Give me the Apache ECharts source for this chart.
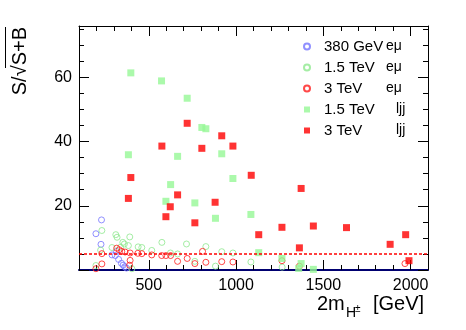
<!DOCTYPE html>
<html lang="en">
<head>
    <meta charset="UTF-8">
    <script src="https://cdn.jsdelivr.net/npm/echarts@6.0.0/dist/echarts.min.js"></script>
    <title>S/sqrt(S+B)</title>
    <style>
        html, body{
            margin: 0;
            padding: 0;
            background: #fff;
        }
        #chart{
            width: 466px;
            height: 330px;
        }
    </style>
</head>
<body>
    <div id="chart"></div>
    <script>
        // 380 GeV e mu (open blue circles)
        const em380X = [197, 229, 226, 289, 308, 315, 327, 343, 353, 362, 372]
        const em380Y = [11.3, 15.6, 8.0, 4.7, 4.5, 5.8, 3.3, 2.1, 1.5, 1.0, 0.6]
        // 1.5 TeV e mu (open green circles)
        const em1500X = [197, 231, 224, 311, 318, 351, 360, 391, 289, 338, 383, 439, 460, 517, 575, 624, 665, 716, 764, 827, 882, 918, 982, 1085, 1264, 403]
        const em1500Y = [1.4, 12.3, 6.2, 11.0, 10.2, 8.6, 8.1, 10.3, 7.0, 7.1, 7.6, 7.2, 7.0, 6.1, 8.6, 5.3, 5.0, 8.1, 2.7, 7.3, 1.2, 5.7, 5.3, 2.5, 0.9, 0.4]
        // 3 TeV e mu (open red circles)
        const em3000X = [197, 231, 231, 316, 330, 345, 364, 393, 393, 390, 437, 460, 517, 574, 598, 625, 665, 720, 764, 808, 827, 918, 982, 1263, 1363, 1968]
        const em3000Y = [0.4, 1.9, 5.1, 6.8, 6.3, 5.8, 5.6, 5.3, 3.0, 1.5, 5.2, 5.1, 4.7, 4.5, 4.5, 4.5, 2.7, 3.6, 2.0, 5.8, 2.4, 2.6, 2.5, 2.9, 1.2, 2.0]
        // 1.5 TeV ljj (green squares)
        const jj1500X = [397, 573, 720, 804, 827, 383, 665, 918, 625, 982, 598, 764, 882, 1085, 1130, 1263, 1373, 1359, 1443]
        const jj1500Y = [61.4, 58.9, 53.5, 44.4, 44.0, 35.9, 35.4, 36.2, 26.6, 28.5, 21.4, 20.9, 16.1, 17.3, 5.4, 3.6, 2.0, 0.5, 0.2]
        // 3 TeV ljj (red squares)
        const jj3000X = [720, 918, 575, 804, 982, 397, 1087, 1373, 383, 665, 623, 880, 598, 764, 1130, 1263, 1363, 1443, 1633, 1883, 1972, 1991]
        const jj3000Y = [45.7, 41.8, 38.6, 37.9, 38.6, 28.8, 29.5, 25.4, 22.3, 23.4, 19.7, 21.1, 16.6, 14.7, 11.0, 13.3, 6.9, 13.7, 13.2, 8.0, 11.0, 2.9]

        // 5 sigma line
        const threshold = 5
        const xMajor = [500, 1000, 1500, 2000]
        const yMajor = [0, 20, 40, 60]

        const font = "'Liberation Sans', Arial, sans-serif"
        const zip = (xs, ys) => xs.map((x, i) => [x, ys[i]])

        function circles(name, xs, ys, color){
            return {
                name: name,
                type: 'scatter',
                data: zip(xs, ys),
                symbol: 'circle',
                symbolSize: 6,
                itemStyle: { color: 'rgba(0,0,0,0)', borderColor: color, borderWidth: 1 }
            }
        }
        function squares(name, xs, ys, color){
            return {
                name: name,
                type: 'scatter',
                data: zip(xs, ys),
                symbol: 'rect',
                symbolSize: 7,
                itemStyle: { color: color }
            }
        }

        // 轴：主轴带小刻度，叠加一根只画大刻度的轴
        function xAx(pos, major, main){
            return {
                type: 'value', min: 100, max: 2100, interval: 100, position: pos,
                axisLine: { show: main, onZero: false, lineStyle: { color: pos === 'bottom' ? '#000070' : '#000', width: pos === 'bottom' ? 2 : 1 } },
                axisTick: major
                    ? { show: true, inside: true, length: 10, customValues: xMajor, lineStyle: { color: '#000' } }
                    : { show: true, inside: true, length: 5, lineStyle: { color: '#000' } },
                axisLabel: {
                    show: pos === 'bottom' && !major,
                    formatter: v => (v % 500 === 0 ? String(v) : ''),
                    fontFamily: font, fontSize: 16, color: '#000', margin: 8
                },
                splitLine: { show: false }
            }
        }
        function yAx(pos, major, main){
            return {
                type: 'value', min: 0, max: 76, interval: 5, position: pos,
                axisLine: { show: main, onZero: false, lineStyle: { color: '#000', width: 1 } },
                axisTick: major
                    ? { show: true, inside: true, length: 10, customValues: yMajor, lineStyle: { color: '#000' } }
                    : { show: true, inside: true, length: 5, lineStyle: { color: '#000' } },
                axisLabel: {
                    show: pos === 'left' && !major,
                    formatter: v => (v % 20 === 0 && v > 0 ? String(v) : ''),
                    fontFamily: font, fontSize: 16, color: '#000', margin: 7
                },
                splitLine: { show: false }
            }
        }

        const series = [
            circles('380 GeV eμ', em380X, em380Y, '#7474ff'),
            circles('1.5 TeV eμ', em1500X, em1500Y, '#8ee88e'),
            circles('3 TeV eμ', em3000X, em3000Y, '#ff1a1a'),
            squares('1.5 TeV ljj', jj1500X, jj1500Y, '#96f796'),
            squares('3 TeV ljj', jj3000X, jj3000Y, '#ff0000')
        ]
        series[4].markLine = {
            silent: true,
            symbol: ['none', 'none'],
            label: { show: false },
            lineStyle: { color: '#ff0000', type: [3, 2], width: 1.5 },
            data: [{ yAxis: threshold }]
        }

        const myChart = echarts.init(document.getElementById('chart'))
        myChart.setOption({
            animation: false,
            backgroundColor: '#fff',
            grid: { left: 79, right: 38, top: 26, bottom: 60, containLabel: false },
            xAxis: [xAx('bottom', false, true), xAx('bottom', true, false), xAx('top', false, true), xAx('top', true, false)],
            yAxis: [yAx('left', false, true), yAx('left', true, false), yAx('right', false, true), yAx('right', true, false)],
            legend: {
                orient: 'vertical',
                left: 303,
                top: 39,
                padding: 0,
                itemWidth: 6,
                itemHeight: 6,
                itemGap: 6,
                selectedMode: false,
                formatter: function(name){
                    const i = name.lastIndexOf(' ')
                    const a = name.slice(0, i), b = name.slice(i + 1)
                    return '{a|' + a + '}' + (b === 'ljj' ? '{c|' + b + '}' : '{b|' + b + '}')
                },
                textStyle: {
                    fontFamily: font,
                    color: '#000',
                    rich: {
                        a: { fontFamily: font, fontSize: 15, lineHeight: 18, width: 62, padding: [0, 0, 0, 9] },
                        b: { fontFamily: font, fontSize: 14, lineHeight: 18 },
                        c: { fontFamily: font, fontSize: 14, lineHeight: 18, padding: [0, 0, 0, 10] }
                    }
                }
            },
            graphic: [
                // y 轴标题
                { type: 'text', x: 20, y: 27, rotation: Math.PI / 2,
                  style: { text: 'S/√S+B', font: '20px ' + font, fill: '#000', textAlign: 'right', textVerticalAlign: 'middle' } },
                { type: 'line', shape: { x1: 5.5, y1: 27, x2: 5.5, y2: 68 }, style: { stroke: '#000', lineWidth: 1 } },
                // x 轴标题
                { type: 'text', x: 317, y: 304,
                  style: { text: '2m', font: '20px ' + font, fill: '#000', textAlign: 'left', textVerticalAlign: 'middle' } },
                { type: 'text', x: 346, y: 313,
                  style: { text: 'H', font: '14px ' + font, fill: '#000', textAlign: 'left', textVerticalAlign: 'middle' } },
                { type: 'text', x: 355, y: 309,
                  style: { text: '±', font: '10px ' + font, fill: '#000', textAlign: 'left', textVerticalAlign: 'middle' } },
                { type: 'text', x: 373, y: 304,
                  style: { text: '[GeV]', font: '20px ' + font, fill: '#000', textAlign: 'left', textVerticalAlign: 'middle' } }
            ],
            series: series
        })
    </script>
</body>
</html>
